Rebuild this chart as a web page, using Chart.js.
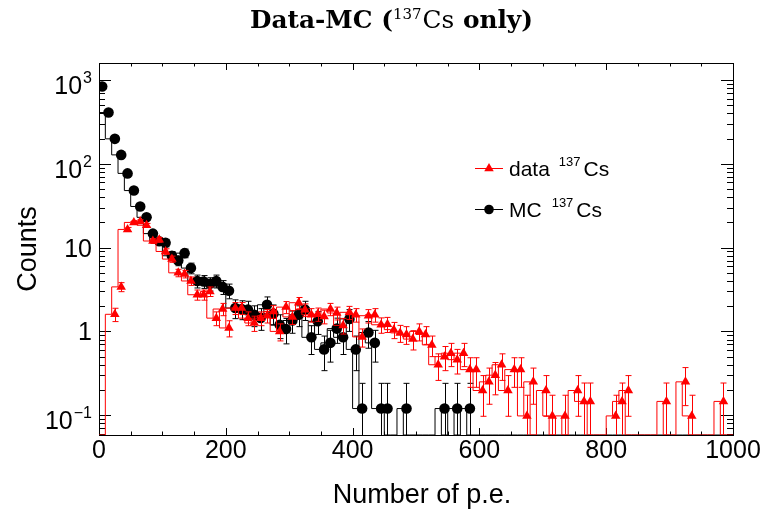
<!DOCTYPE html>
<html>
<head>
<meta charset="utf-8">
<script src="https://cdn.jsdelivr.net/npm/chart.js@4.4.1/dist/chart.umd.min.js"></script>
<style>
  html, body { margin: 0; padding: 0; background: #fff; }
  canvas { display: block; }
</style>
</head>
<body>
<canvas id="spectrum" width="768" height="517"></canvas>
<script>
// 100 bins of 10 p.e. from 0 to 1000
const binWidth = 10
const nBins = 100
const binCenters = Array.from({ length: nBins }, (_, i) => i * binWidth + binWidth / 2)

// measured spectrum, 137Cs source (background subtracted)
const dataCounts = [
  0, 0, 1.6, 3.4, 16.5, 20, 20.5, 18.5, 12, 12.4,
  9.0, 7.3, 5.0, 4.85, 4.0, 2.74, 2.74, 3.0, 1.44, 1.85,
  1.1, 1.9, 1.9, 1.44, 1.26, 1.44, 1.54, 1.73, 1.0, 1.95,
  1.49, 2.2, 1.82, 1.58, 1.61, 1.51, 1.85, 1.66, 1.18, 1.69,
  1.58, 0.86, 1.54, 1.58, 1.2, 1.22, 1.05, 0.96, 0.92, 0.81,
  1.0, 0.92, 0.69, 0.40, 0.50, 0.55, 0.46, 0.55, 0.35, 0.35,
  0.197, 0.25, 0.30, 0.40, 0.197, 0.35, 0.35, 0.098, 0.25, 0,
  0.197, 0.098, 0, 0.098, 0, 0.197, 0.146, 0.146, 0, 0,
  0, 0.098, 0.146, 0.197, 0, 0, 0, 0, 0, 0.146,
  0, 0, 0.25, 0.098, 0, 0, 0, 0, 0.146, 0
]
const dataErrors = [
  0, 0, 0.29, 0.42, 0.93, 1.02, 1.03, 0.98, 0.79, 0.80,
  0.68, 0.62, 0.51, 0.50, 0.46, 0.38, 0.38, 0.39, 0.27, 0.31,
  0.24, 0.31, 0.31, 0.27, 0.26, 0.27, 0.28, 0.30, 0.23, 0.32,
  0.28, 0.34, 0.31, 0.29, 0.29, 0.28, 0.31, 0.29, 0.25, 0.30,
  0.29, 0.21, 0.28, 0.29, 0.25, 0.25, 0.23, 0.22, 0.22, 0.21,
  0.23, 0.22, 0.19, 0.14, 0.16, 0.17, 0.15, 0.17, 0.135, 0.135,
  0.10, 0.115, 0.125, 0.14, 0.10, 0.135, 0.135, 0.075, 0.115, 0,
  0.10, 0.075, 0, 0.075, 0, 0.10, 0.096, 0.096, 0, 0,
  0, 0.075, 0.096, 0.10, 0, 0, 0, 0, 0, 0.096,
  0, 0, 0.12, 0.075, 0, 0, 0, 0, 0.096, 0
]

// simulation, 137Cs only (scaled)
const mcCounts = [
  840, 410, 199, 128, 77, 48, 31, 23, 14.7, 11.9,
  11.4, 8.0, 7.0, 8.6, 5.7, 4.0, 3.95, 3.7, 4.0, 3.4,
  3.06, 1.9, 1.85, 1.82, 1.58, 1.45, 2.08, 1.63, 1.2, 1.07,
  1.35, 1.58, 1.82, 0.85, 1.32, 0.61, 0.73, 1.08, 0.85, 1.41,
  0.61, 0.12, 0.97, 0.73, 0.12, 0.12, 0, 0, 0.12, 0,
  0, 0, 0, 0, 0.12, 0, 0.12, 0, 0.12, 0,
  0, 0, 0, 0, 0, 0, 0, 0, 0, 0,
  0, 0, 0, 0, 0, 0, 0, 0, 0, 0,
  0, 0, 0, 0, 0, 0, 0, 0, 0, 0,
  0, 0, 0, 0, 0, 0, 0, 0, 0, 0
]
const mcErrors = [
  10.1, 7.0, 4.9, 3.9, 3.05, 2.4, 1.94, 1.67, 1.33, 1.2,
  1.17, 0.98, 0.92, 1.02, 0.83, 0.70, 0.69, 0.67, 0.70, 0.64,
  0.61, 0.48, 0.47, 0.47, 0.44, 0.42, 0.50, 0.44, 0.38, 0.36,
  0.40, 0.44, 0.47, 0.32, 0.40, 0.27, 0.30, 0.36, 0.32, 0.41,
  0.27, 0.12, 0.34, 0.30, 0.12, 0.12, 0, 0, 0.12, 0,
  0, 0, 0, 0, 0.12, 0, 0.12, 0, 0.12, 0,
  0, 0, 0, 0, 0, 0, 0, 0, 0, 0,
  0, 0, 0, 0, 0, 0, 0, 0, 0, 0,
  0, 0, 0, 0, 0, 0, 0, 0, 0, 0,
  0, 0, 0, 0, 0, 0, 0, 0, 0, 0
]

// axis ranges and tick labels
const xMin = 0, xMax = 1000
const yMin = 0.058, yMax = 1600
const xTickLabels = [0, 200, 400, 600, 800, 1000]
const yTickDecades = [-1, 0, 1, 2, 3]

const RED = '#ff0000'
const BLACK = '#000000'
const SANS = '"Liberation Sans", Arial, sans-serif'
const SERIF = '"DejaVu Serif", "Liberation Serif", serif'

// histogram outline: one point per lower bin edge plus the closing edge
function outline(counts) {
  const pts = counts.map((v, i) => ({ x: i * binWidth, y: v > 0 ? v : yMin }))
  pts.push({ x: nBins * binWidth, y: pts[pts.length - 1].y })
  return pts
}

// markers only for filled bins
function markers(counts, errors) {
  const pts = []
  counts.forEach((v, i) => {
    if (v > 0) pts.push({ x: binCenters[i], y: v, err: errors[i] })
  })
  return pts
}

// vertical error bars with small caps, drawn just under each marker set
const errorBars = {
  id: 'errorBars',
  beforeDatasetDraw(chart, args) {
    const ds = chart.data.datasets[args.index]
    if (!ds.errorColor) return
    const { ctx, chartArea: a } = chart
    const y = chart.scales.y
    ctx.save()
    ctx.strokeStyle = ds.errorColor
    ctx.lineWidth = 1
    args.meta.data.forEach((pt, i) => {
      const d = ds.data[i]
      const top = y.getPixelForValue(d.y + d.err)
      const lo = d.y - d.err
      const bottom = lo > yMin ? y.getPixelForValue(lo) : a.bottom
      const px = Math.round(pt.x) + 0.5
      ctx.beginPath()
      ctx.moveTo(px, Math.max(top, a.top))
      ctx.lineTo(px, bottom)
      if (top > a.top) {
        ctx.moveTo(px - 3, top)
        ctx.lineTo(px + 3, top)
      }
      if (lo > yMin) {
        ctx.moveTo(px - 3, bottom)
        ctx.lineTo(px + 3, bottom)
      }
      ctx.stroke()
    })
    ctx.restore()
  }
}

// frame with inward ticks on all four sides
const frame = {
  id: 'frame',
  beforeDatasetsDraw(chart) {
    const { ctx, chartArea: a, scales: { x, y } } = chart
    ctx.save()
    ctx.strokeStyle = '#000'
    ctx.lineWidth = 1
    ctx.beginPath()
    for (let v = xMin; v <= xMax; v += 50) {
      const px = Math.round(x.getPixelForValue(v)) + 0.5
      const len = v % 200 === 0 ? 7 : 3.5
      ctx.moveTo(px, a.bottom); ctx.lineTo(px, a.bottom - len)
      ctx.moveTo(px, a.top); ctx.lineTo(px, a.top + len)
    }
    for (let k = -2; k <= 3; k++) {
      for (let m = 1; m <= 9; m++) {
        const v = m * Math.pow(10, k)
        if (v < yMin || v > yMax) continue
        const py = Math.round(y.getPixelForValue(v)) + 0.5
        const len = m === 1 ? 12 : 6
        ctx.moveTo(a.left, py); ctx.lineTo(a.left + len, py)
        ctx.moveTo(a.right, py); ctx.lineTo(a.right - len, py)
      }
    }
    ctx.stroke()
    ctx.strokeRect(a.left + 0.5, a.top + 0.5, a.right - a.left, a.bottom - a.top)
    ctx.restore()
  }
}

// draws a run of [text, font, dy, gapAfter] pieces starting at x
function drawRun(ctx, pieces, x, baseline) {
  pieces.forEach(([t, font, dy, gap]) => {
    ctx.font = font
    ctx.fillText(t, x, baseline - dy)
    x += ctx.measureText(t).width + (gap || 0)
  })
  return x
}

function runWidth(ctx, pieces) {
  let w = 0
  pieces.forEach(([t, font, , gap]) => {
    ctx.font = font
    w += ctx.measureText(t).width + (gap || 0)
  })
  return w
}

function titlePieces(size) {
  return [
    ['Data-MC (', 'bold ' + size + 'px ' + SERIF, 0, 0],
    ['137', Math.round(size * 0.62) + 'px ' + SERIF, size * 0.38, 1],
    ['Cs', size + 'px ' + SERIF, 0, 0],
    [' only)', 'bold ' + size + 'px ' + SERIF, 0, 0]
  ]
}

const annotations = {
  id: 'annotations',
  afterDraw(chart) {
    const { ctx, chartArea: a, scales: { x, y } } = chart
    ctx.save()
    ctx.fillStyle = '#000'
    ctx.textBaseline = 'alphabetic'

    // x tick labels
    ctx.font = '25px ' + SANS
    ctx.textAlign = 'center'
    xTickLabels.forEach(v => ctx.fillText(String(v), x.getPixelForValue(v), 458))

    // y tick labels, powers of ten
    ctx.textAlign = 'left'
    yTickDecades.forEach(k => {
      const py = y.getPixelForValue(Math.pow(10, k))
      let pieces
      if (k === 0) pieces = [['1', '25px ' + SANS, 0, 0]]
      else if (k === 1) pieces = [['10', '25px ' + SANS, 0, 0]]
      else pieces = [['10', '25px ' + SANS, 0, 1], [String(k).replace('-', '\u2212'), '16px ' + SANS, 11, 0]]
      const base = pieces.length > 1 ? py + 14 : py + 9
      const w = runWidth(ctx, pieces)
      drawRun(ctx, pieces, 92 - w, base)
    })

    // axis titles
    ctx.font = '27px ' + SANS
    ctx.textAlign = 'center'
    ctx.fillText('Number of p.e.', (a.left + a.right) / 2 + 6, 503)
    ctx.save()
    ctx.translate(36, (a.top + a.bottom) / 2)
    ctx.rotate(-Math.PI / 2)
    ctx.fillText('Counts', 0, 0)
    ctx.restore()

    // title, sized to span 250..533
    ctx.textAlign = 'left'
    const w20 = runWidth(ctx, titlePieces(20))
    const size = Math.round(20 * 283 / w20 * 10) / 10
    const title = titlePieces(size)
    const tw = runWidth(ctx, title)
    drawRun(ctx, title, 391.5 - tw / 2, 28)

    // legend
    const entries = [
      { label: 'data', color: RED, style: 'triangle', radius: 5.5, y: 168, gap: 9 },
      { label: 'MC', color: BLACK, style: 'circle', radius: 4.8, y: 209, gap: 10 }
    ]
    entries.forEach(e => {
      ctx.strokeStyle = e.color
      ctx.fillStyle = e.color
      ctx.lineWidth = 1
      ctx.beginPath()
      ctx.moveTo(475, e.y + 0.5)
      ctx.lineTo(503, e.y + 0.5)
      ctx.stroke()
      Chart.helpers.drawPoint(ctx, { pointStyle: e.style, radius: e.radius, rotation: 0, borderWidth: 0 }, 489, e.y + 0.5)
      ctx.fillStyle = '#000'
      drawRun(ctx, [
        [e.label, '21px ' + SANS, 0, e.gap],
        ['137', '13px ' + SANS, 10.5, 3],
        ['Cs', '21px ' + SANS, 0, 0]
      ], 509, e.y + 8)
    })
    ctx.restore()
  }
}

new Chart(document.getElementById('spectrum'), {
  type: 'scatter',
  data: {
    datasets: [
      {
        // data markers on top
        data: markers(dataCounts, dataErrors),
        showLine: false,
        pointStyle: 'triangle',
        pointRadius: 5.5,
        backgroundColor: RED,
        borderWidth: 0,
        errorColor: RED,
        order: 1
      },
      {
        data: outline(dataCounts),
        showLine: true,
        stepped: 'after',
        borderColor: RED,
        borderWidth: 1,
        pointRadius: 0,
        order: 2
      },
      {
        data: markers(mcCounts, mcErrors),
        showLine: false,
        pointStyle: 'circle',
        pointRadius: 5.3,
        backgroundColor: BLACK,
        borderWidth: 0,
        errorColor: BLACK,
        order: 3
      },
      {
        data: outline(mcCounts),
        showLine: true,
        stepped: 'after',
        borderColor: BLACK,
        borderWidth: 1,
        pointRadius: 0,
        order: 4
      }
    ]
  },
  options: {
    responsive: false,
    animation: false,
    events: [],
    layout: { padding: { left: 99, right: 35, top: 63, bottom: 82 } },
    plugins: {
      legend: { display: false },
      title: { display: false },
      tooltip: { enabled: false }
    },
    scales: {
      x: { type: 'linear', min: xMin, max: xMax, display: false },
      y: { type: 'logarithmic', min: yMin, max: yMax, display: false }
    }
  },
  plugins: [frame, errorBars, annotations]
})
</script>
</body>
</html>
